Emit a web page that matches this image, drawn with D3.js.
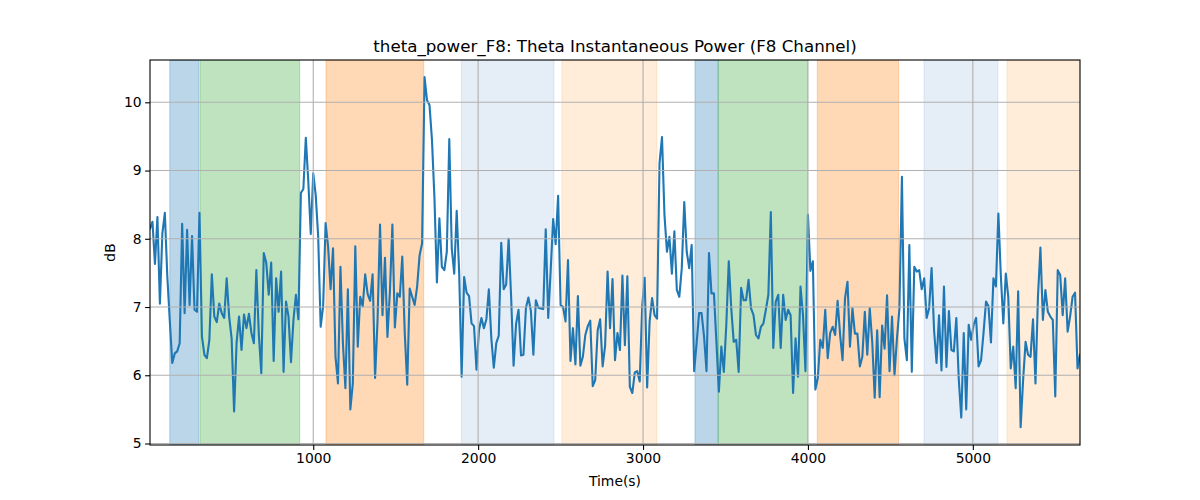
<!DOCTYPE html>
<html>
<head>
<meta charset="utf-8">
<script src="https://cdn.jsdelivr.net/npm/d3@7"></script>
<style>
  body { margin: 0; background: #fff; }
  text { font-family: "DejaVu Sans", sans-serif; fill: #000; }
</style>
</head>
<body>
<svg id="chart" width="1200" height="500"></svg>
<script>
// ---- data ----
const title = "theta_power_F8: Theta Instantaneous Power (F8 Channel)";
const xLabel = "Time(s)";
const yLabel = "dB";
const timeStart = 10, timeStep = 15, timeEnd = 5650;
const values = [
8.15,8.25,7.63,8.32,7.05,8.08,8.38,7.45,6.8,6.18,
6.32,6.35,6.47,8.22,6.91,8.13,7.03,8.04,6.96,6.93,
8.38,6.57,6.30,6.25,6.52,7.48,6.86,6.78,7.05,6.91,
6.84,7.42,6.86,6.54,5.47,6.47,6.86,6.37,6.89,6.69,
6.90,6.62,6.47,7.54,6.6,6.03,7.79,7.65,7.18,7.65,
6.21,7.42,6.93,7.52,6.05,7.08,6.86,6.19,6.81,7.18,
6.82,8.67,8.73,9.48,8.84,8.07,8.96,8.64,8.03,6.71,
7.01,8.23,7.89,7.26,7.86,6.27,5.88,7.59,6.47,5.81,
7.26,5.50,5.88,7.89,6.42,7.15,7.01,7.48,7.19,7.09,
7.48,5.96,6.81,8.21,6.88,7.72,6.56,7.23,8.21,6.70,
7.20,7.15,7.74,6.62,5.86,7.27,7.15,7.03,7.30,7.76,
7.93,10.37,10.03,9.96,9.45,8.6,7.36,8.30,7.59,7.54,
7.81,9.46,7.86,7.49,8.41,7.5,5.98,7.44,7.21,7.16,
6.76,6.72,6.08,6.66,6.84,6.69,6.82,7.26,6.54,6.11,
6.47,6.58,7.94,7.26,7.33,8.00,7.15,6.14,6.75,6.96,
6.29,6.30,6.99,7.14,6.94,6.30,7.10,6.99,6.98,6.97,
8.14,6.84,7.54,8.29,7.92,8.63,7.03,7.0,6.79,7.69,
6.21,6.69,6.16,7.16,6.14,6.27,6.59,6.72,6.80,5.84,
5.93,6.66,6.82,6.13,6.43,7.52,6.69,7.41,6.22,6.62,
6.37,7.46,6.44,7.45,5.83,5.74,6.04,6.06,5.91,7.01,
7.43,5.82,6.79,7.13,6.88,6.83,9.11,9.49,8.35,7.81,
8.03,7.49,8.11,7.25,7.15,7.57,8.54,7.81,7.57,7.91,
6.06,6.47,6.91,6.91,6.57,6.06,7.79,7.20,7.20,6.49,
5.76,6.42,6.05,6.74,7.67,6.98,6.49,6.52,6.05,7.28,
7.10,7.10,7.40,6.98,6.88,6.59,6.54,6.71,6.76,6.96,
7.18,8.39,6.40,7.08,7.18,6.40,7.18,6.81,6.96,6.88,
5.74,6.54,5.98,7.30,6.88,6.06,8.35,7.53,7.67,5.79,
5.96,6.52,6.40,6.96,6.25,6.62,6.71,6.59,7.09,6.6,
6.22,7.13,7.37,6.42,6.98,6.61,6.61,6.13,6.27,6.93,
6.30,6.98,6.49,5.67,6.66,5.68,6.73,6.39,7.17,6.06,
6.86,6.00,6.54,6.98,8.91,6.54,6.22,7.91,6.05,7.59,
7.52,7.54,7.26,7.42,6.84,6.98,7.57,6.66,6.18,6.88,
6.07,7.30,6.12,6.94,6.37,6.35,6.84,5.93,5.38,6.62,
5.50,6.74,6.52,6.74,6.84,6.13,6.22,6.62,7.08,7.01,
6.48,7.42,7.30,8.37,7.45,6.76,7.49,7.15,6.10,6.42,
5.81,7.23,5.24,5.93,6.49,6.30,6.27,6.82,5.88,7.15,
7.87,6.81,7.25,6.93,6.86,6.81,5.69,7.54,7.47,6.88,
7.42,6.64,6.86,7.15,7.21,6.10,6.30
];
const times = d3.range(values.length).map(i => timeStart + i * timeStep);

// shaded segments
const spanStarts = [130, 313, 1077, 1898, 2508, 3315, 3456, 4057, 4704, 5207];
const spanEnds   = [306, 918, 1670, 2460, 3084, 3456, 3998, 4550, 5152, 5650];
const spanKinds  = ["blue","green","orange","lightblue","lightorange","blue","green","orange","lightblue","lightorange"];

const xTicks = [1000, 2000, 3000, 4000, 5000];
const yTicks = [5, 6, 7, 8, 9, 10];

// ---- styles ----
const spanStyle = {
  blue: {color: "#1f77b4", opacity: 0.3},
  green: {color: "#2ca02c", opacity: 0.3},
  orange: {color: "#ff7f0e", opacity: 0.3},
  lightblue: {color: "#5b8fd0", opacity: 0.16},
  lightorange: {color: "#ff8c1f", opacity: 0.17}
};

const margin = {left: 150, right: 120, top: 60, bottom: 55};
const W = 1200, H = 500;
const svg = d3.select("#chart");
const x = d3.scaleLinear().domain([timeStart, timeEnd]).range([margin.left, W - margin.right]);
const y = d3.scaleLinear().domain([4.978, 10.62]).range([H - margin.bottom, margin.top]);

const defs = svg.append("defs");
defs.append("clipPath").attr("id", "clip").append("rect")
  .attr("x", margin.left).attr("y", margin.top)
  .attr("width", W - margin.left - margin.right).attr("height", H - margin.top - margin.bottom);

const plot = svg.append("g").attr("clip-path", "url(#clip)");

// spans
plot.selectAll("rect.span").data(spanStarts.map((s, i) => ({s, e: spanEnds[i], k: spanKinds[i]})))
  .join("rect").attr("class", "span")
  .attr("x", d => x(d.s)).attr("width", d => x(d.e) - x(d.s))
  .attr("y", margin.top).attr("height", H - margin.top - margin.bottom)
  .attr("fill", d => spanStyle[d.k].color)
  .attr("fill-opacity", d => spanStyle[d.k].opacity)
  .attr("stroke", d => spanStyle[d.k].color)
  .attr("stroke-opacity", d => spanStyle[d.k].opacity)
  .attr("stroke-width", 1);

// grid
const grid = svg.append("g");
grid.selectAll("line.gx").data(xTicks).join("line")
  .attr("x1", d => x(d)).attr("x2", d => x(d))
  .attr("y1", margin.top).attr("y2", H - margin.bottom)
  .attr("stroke", "#b0b0b0").attr("stroke-width", 1.1);
grid.selectAll("line.gy").data(yTicks).join("line")
  .attr("y1", d => y(d)).attr("y2", d => y(d))
  .attr("x1", margin.left).attr("x2", W - margin.right)
  .attr("stroke", "#b0b0b0").attr("stroke-width", 1.1);

// line
const line = d3.line().x((d, i) => x(times[i])).y(d => y(d));
plot.append("path").datum(values)
  .attr("d", line).attr("fill", "none")
  .attr("stroke", "#1f77b4").attr("stroke-width", 2.1)
  .attr("stroke-linejoin", "round").attr("stroke-linecap", "square");

// axes
const xAxis = d3.axisBottom(x).tickValues(xTicks).tickSize(4.9).tickPadding(3.5).tickFormat(d3.format("d"));
const yAxis = d3.axisLeft(y).tickValues(yTicks).tickSize(4.9).tickPadding(3.5).tickFormat(d3.format("d"));
const gx = svg.append("g").attr("transform", `translate(0,${H - margin.bottom})`).call(xAxis);
const gy = svg.append("g").attr("transform", `translate(${margin.left},0)`).call(yAxis);
[gx, gy].forEach(g => {
  g.select(".domain").remove();
  g.selectAll(".tick line").attr("stroke", "#000").attr("stroke-width", 1.1);
  g.selectAll(".tick text").attr("font-size", "13.9px").attr("font-family", "DejaVu Sans").attr("fill", "#000");
});

// spines
svg.append("rect").attr("x", margin.left).attr("y", margin.top)
  .attr("width", W - margin.left - margin.right).attr("height", H - margin.top - margin.bottom)
  .attr("fill", "none").attr("stroke", "#000").attr("stroke-width", 1.1);

// labels
svg.append("text").attr("x", (margin.left + W - margin.right) / 2).attr("y", 52)
  .attr("text-anchor", "middle").attr("font-size", "16.7px").text(title);
svg.append("text").attr("x", (margin.left + W - margin.right) / 2).attr("y", 486)
  .attr("text-anchor", "middle").attr("font-size", "13.9px").text(xLabel);
svg.append("text").attr("transform", `translate(115,${(margin.top + H - margin.bottom) / 2}) rotate(-90)`)
  .attr("text-anchor", "middle").attr("font-size", "13.9px").text(yLabel);
</script>
</body>
</html>
